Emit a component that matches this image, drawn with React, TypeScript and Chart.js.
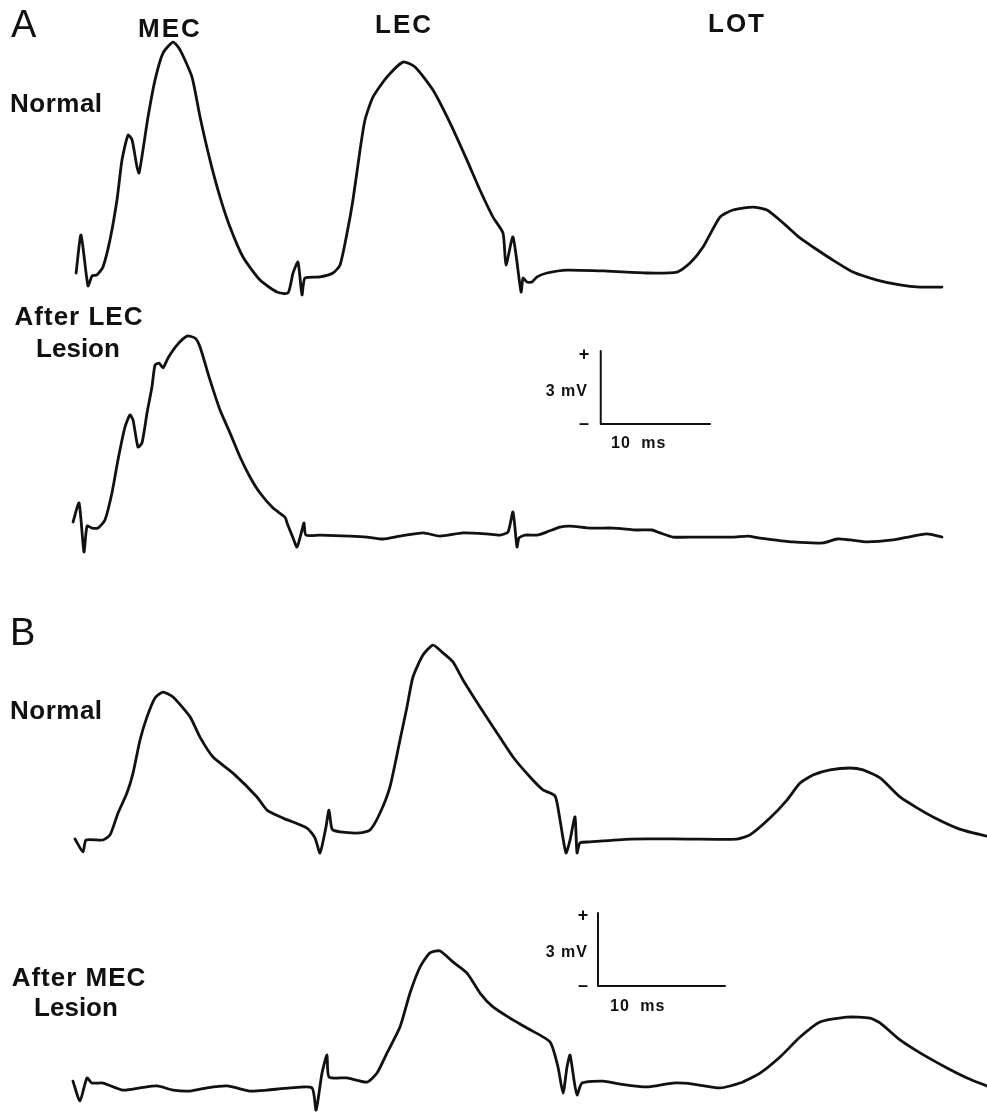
import React, { useEffect, useRef } from "react";
import { Chart, registerables } from "chart.js";

Chart.register(...registerables);

// ---------- data (time in ms from first stimulus, potential in mV) ----------
const A_NORMAL_MS = [0.1,0.55,1.19,1.56,2.01,2.56,3.2,3.84,4.3,4.85,5.22,5.67,5.86,6.22,6.68,7.32,8.05,8.97,9.61,10.7,11.44,12.35,13.27,14.18,15.37,16.93,18.48,19.49,19.95,20.4,20.77,21.04,22.42,23.6,24.25,24.89,25.43,26.08,26.53,27.26,28.55,30.01,31.11,32.75,34.31,35.86,37.05,38.24,39.16,39.43,40.07,40.81,40.99,41.35,41.81,42.27,43.18,45.01,48.67,52.33,55.08,56.27,57.46,59.01,60.2,62.03,63.31,64.78,66.33,67.52,69.35,71.18,73.38,75.48,77.31,79.32];
const A_NORMAL_MV = [0,1.56,-0.53,-0.12,-0.08,0.25,1.36,3.0,4.64,5.67,5.47,4.36,4.11,5.06,6.41,7.93,9.04,9.49,9.17,8.06,6.41,4.64,3.12,1.89,0.66,-0.29,-0.78,-0.82,0,0.45,-0.9,-0.21,-0.16,0,0.33,1.64,3.0,5.06,6.29,7.23,8.06,8.67,8.47,7.52,6.17,4.64,3.41,2.3,1.64,0.33,1.48,-0.78,-0.21,-0.37,-0.37,-0.16,0,0.12,0.08,0,0.04,0.41,1.07,2.3,2.59,2.71,2.59,2.06,1.44,1.07,0.53,0.04,-0.29,-0.49,-0.58,-0.58];

const A_LESION_MS = [-0.18,0.37,0.82,1.1,1.56,2.1,2.74,3.38,3.93,4.57,5.03,5.31,5.76,6.13,6.59,7.04,7.32,7.69,8.05,8.51,9.33,10.25,10.98,11.44,12.35,13.27,14.18,15.1,16.01,16.93,18.12,19.21,19.4,19.95,20.31,20.77,20.95,21.13,22.42,25.16,26.72,28.18,29.73,31.84,33.39,35.5,37.69,38.88,39.62,40.07,40.44,40.62,41.17,42.27,43.18,44.37,45.29,47.12,49.22,51.42,52.79,53.52,54.71,56.91,60.2,61.57,62.67,65.69,68.44,69.72,70.91,72.46,74.84,76.67,77.95,79.32];
const A_LESION_MV = [0.33,1.11,-0.9,0.16,0.08,0.08,0.41,1.52,2.88,4.23,4.73,4.52,3.41,3.58,4.81,5.88,6.78,6.86,6.66,7.07,7.6,7.97,7.89,7.52,6.17,4.93,3.99,3.0,2.18,1.52,0.9,0.53,0.29,-0.33,-0.7,0,0.29,-0.21,-0.21,-0.25,-0.29,-0.37,-0.25,-0.12,-0.25,-0.12,-0.16,-0.21,-0.08,0.74,-0.7,-0.33,-0.21,-0.21,-0.08,0.12,0.16,0.08,0.08,0,0,-0.12,-0.29,-0.29,-0.29,-0.25,-0.33,-0.49,-0.53,-0.37,-0.41,-0.49,-0.41,-0.25,-0.16,-0.29];

const B_NORMAL_MS = [0,0.63,0.87,2.2,2.76,3.39,4.09,4.57,5.12,5.67,6.3,6.93,7.72,9.06,9.84,10.87,12.44,14.33,15.12,16.38,18.27,18.9,19.29,19.76,20.0,20.24,20.87,22.44,23.23,24.02,24.8,25.59,26.14,26.61,27.4,28.19,28.98,29.76,30.55,31.89,33.23,34.49,35.83,36.85,37.8,38.19,38.66,38.98,39.37,39.53,39.76,40.55,43.7,48.19,52.13,53.15,54.72,56.06,57.09,58.11,59.45,61.02,62.05,63.39,64.96,66.3,67.56,69.45,70.71,71.81];
const B_NORMAL_MV = [0.04,-0.49,0,0,0.21,1.11,1.93,2.75,4.11,5.06,5.84,6.08,5.88,5.06,4.23,3.41,2.75,1.77,1.23,0.9,0.49,0.08,-0.53,0.53,1.23,0.45,0.33,0.29,0.41,1.11,2.18,4.11,5.47,6.7,7.6,8.01,7.69,7.32,6.58,5.47,4.4,3.41,2.59,2.06,1.81,0.82,-0.53,0,0.95,-0.53,-0.12,-0.08,0.04,0.04,0.04,0.21,0.9,1.64,2.34,2.67,2.88,2.96,2.88,2.55,1.77,1.32,0.95,0.49,0.29,0.16];

const B_LESION_MS = [-0.16,0.39,0.94,1.34,2.2,3.78,5.12,6.46,7.72,9.06,10.39,11.97,13.78,15.12,16.93,18.66,18.98,19.45,19.84,20.0,21.42,22.99,23.78,24.57,25.59,26.38,27.17,27.95,28.74,29.76,30.87,31.89,32.91,34.25,35.59,37.4,38.03,38.43,38.74,38.98,39.29,39.53,39.92,41.57,42.91,45.04,47.09,48.66,50.79,52.36,53.94,55.51,57.09,58.66,60.79,62.6,63.39,64.96,66.54,68.66,70.24,71.81];
const B_LESION_MV = [0.16,-0.66,0.29,0.08,0.08,-0.21,-0.12,-0.04,-0.21,-0.25,-0.12,-0.04,-0.25,-0.21,-0.12,-0.12,-1.03,0.49,1.23,0.33,0.29,0.12,0.49,1.32,2.38,3.78,4.85,5.43,5.51,5.06,4.6,3.78,3.21,2.75,2.34,1.77,0.74,-0.33,0.74,1.23,0.21,-0.41,0.08,0.16,0.04,-0.08,0.08,0.04,-0.12,0.08,0.49,1.15,1.97,2.59,2.79,2.75,2.55,1.85,1.32,0.7,0.29,-0.04];

// calibration bars: 10 ms x 3 mV
const SCALE_A_MS = [48.1, 48.1, 58.1];
const SCALE_A_MV = [7.36, 4.36, 4.36];
const SCALE_B_MS = [41.18, 41.18, 51.18];
const SCALE_B_MV = [7.07, 4.07, 4.07];

// ---------- layout ----------
const W = 987;
const H = 1112;
const ORIGIN_X = 75;
const PX_PER_MV = 24.33;
const A_PX_PER_MS = 10.93;
const B_PX_PER_MS = 12.7;
const FONT = '"Liberation Sans", Arial, Helvetica, sans-serif';

type Series = { ms: number[]; mv: number[]; width: number; tension: number };

function pts(ms: number[], mv: number[]) {
  const n = Math.min(ms.length, mv.length);
  const out: { x: number; y: number }[] = [];
  for (let i = 0; i < n; i++) out.push({ x: ms[i], y: mv[i] });
  return out;
}

function Trace(props: { top: number; height: number; zeroY: number; pxPerMs: number; series: Series[] }) {
  const ref = useRef<HTMLCanvasElement | null>(null);
  const { top, height, zeroY, pxPerMs, series } = props;
  useEffect(() => {
    if (!ref.current) return;
    const chart = new Chart(ref.current, {
      type: "line",
      data: {
        datasets: series.map((s) => ({
          data: pts(s.ms, s.mv),
          borderColor: "#111",
          borderWidth: s.width,
          pointRadius: 0,
          fill: false,
          clip: false as any,
          tension: s.tension,
          borderJoinStyle: "round" as const,
          borderCapStyle: "round" as const,
        })),
      },
      options: {
        animation: false,
        responsive: false,
        maintainAspectRatio: false,
        devicePixelRatio: 1,
        events: [],
        layout: { padding: 0, autoPadding: false } as any,
        plugins: { legend: { display: false }, tooltip: { enabled: false } },
        scales: {
          x: { type: "linear", display: false, min: -ORIGIN_X / pxPerMs, max: (W - ORIGIN_X) / pxPerMs },
          y: { type: "linear", display: false, min: -(top + height - zeroY) / PX_PER_MV, max: (zeroY - top) / PX_PER_MV },
        },
      },
    });
    return () => chart.destroy();
  }, []);
  return (
    <canvas
      ref={ref}
      width={W}
      height={height}
      style={{ position: "absolute", left: 0, top, width: W, height, display: "block" }}
    />
  );
}

function Label(props: {
  text: string; x: number; baseline: number; size: number; weight?: number;
  align?: "left" | "right" | "center"; spacing?: number; wordSpacing?: number;
}) {
  const { text, x, baseline, size, weight = 700, align = "left", spacing = 0, wordSpacing = 0 } = props;
  const style: any = {
    position: "absolute",
    top: baseline - 0.8465 * size,
    fontFamily: FONT,
    fontSize: size,
    fontWeight: weight,
    lineHeight: `${size}px`,
    letterSpacing: spacing,
    wordSpacing,
    whiteSpace: "pre",
    color: "#111",
  };
  if (align === "left") style.left = x;
  else if (align === "right") { style.right = W - x; style.textAlign = "right"; }
  else { style.left = x - 150; style.width = 300; style.textAlign = "center"; }
  return <div style={style}>{text}</div>;
}

export default function App() {
  const T = 0.2;
  return (
    <div style={{ position: "absolute", left: 0, top: 0, width: W, height: H, background: "#fff", overflow: "hidden" }}>
      <Trace top={30} height={280} zeroY={273} pxPerMs={A_PX_PER_MS}
        series={[{ ms: A_NORMAL_MS, mv: A_NORMAL_MV, width: 2.8, tension: T }]} />
      <Trace top={330} height={240} zeroY={530} pxPerMs={A_PX_PER_MS}
        series={[
          { ms: A_LESION_MS, mv: A_LESION_MV, width: 2.8, tension: T },
          { ms: SCALE_A_MS, mv: SCALE_A_MV, width: 2, tension: 0 },
        ]} />
      <Trace top={620} height={250} zeroY={840} pxPerMs={B_PX_PER_MS}
        series={[{ ms: B_NORMAL_MS, mv: B_NORMAL_MV, width: 2.8, tension: T }]} />
      <Trace top={890} height={222} zeroY={1085} pxPerMs={B_PX_PER_MS}
        series={[
          { ms: B_LESION_MS, mv: B_LESION_MV, width: 2.8, tension: T },
          { ms: SCALE_B_MS, mv: SCALE_B_MV, width: 2, tension: 0 },
        ]} />

      <Label text="A" x={11} baseline={37} size={38} weight={400} />
      <Label text="MEC" x={138} baseline={37} size={26} spacing={2} />
      <Label text="LEC" x={375} baseline={33} size={26} spacing={2} />
      <Label text="LOT" x={708} baseline={32} size={26} spacing={2} />
      <Label text="Normal" x={10} baseline={112} size={26} spacing={0.5} />
      <Label text="After LEC" x={79} baseline={325} size={26} spacing={1} align="center" />
      <Label text="Lesion" x={78} baseline={357} size={26} align="center" />

      <Label text="B" x={10} baseline={645} size={38} weight={400} />
      <Label text="Normal" x={10} baseline={719} size={26} spacing={0.5} />
      <Label text="After MEC" x={79} baseline={986} size={26} spacing={1} align="center" />
      <Label text="Lesion" x={76} baseline={1016} size={26} align="center" />

      <Label text="+" x={584} baseline={360} size={18} align="center" />
      <Label text="3 mV" x={588} baseline={397} size={16} spacing={1} align="right" />
      <Label text="–" x={584} baseline={429} size={18} align="center" />
      <Label text="10 ms" x={611} baseline={449} size={16} spacing={1} wordSpacing={5} />

      <Label text="+" x={583} baseline={921} size={18} align="center" />
      <Label text="3 mV" x={588} baseline={958} size={16} spacing={1} align="right" />
      <Label text="–" x={583} baseline={991} size={18} align="center" />
      <Label text="10 ms" x={610} baseline={1012} size={16} spacing={1} wordSpacing={5} />
    </div>
  );
}
